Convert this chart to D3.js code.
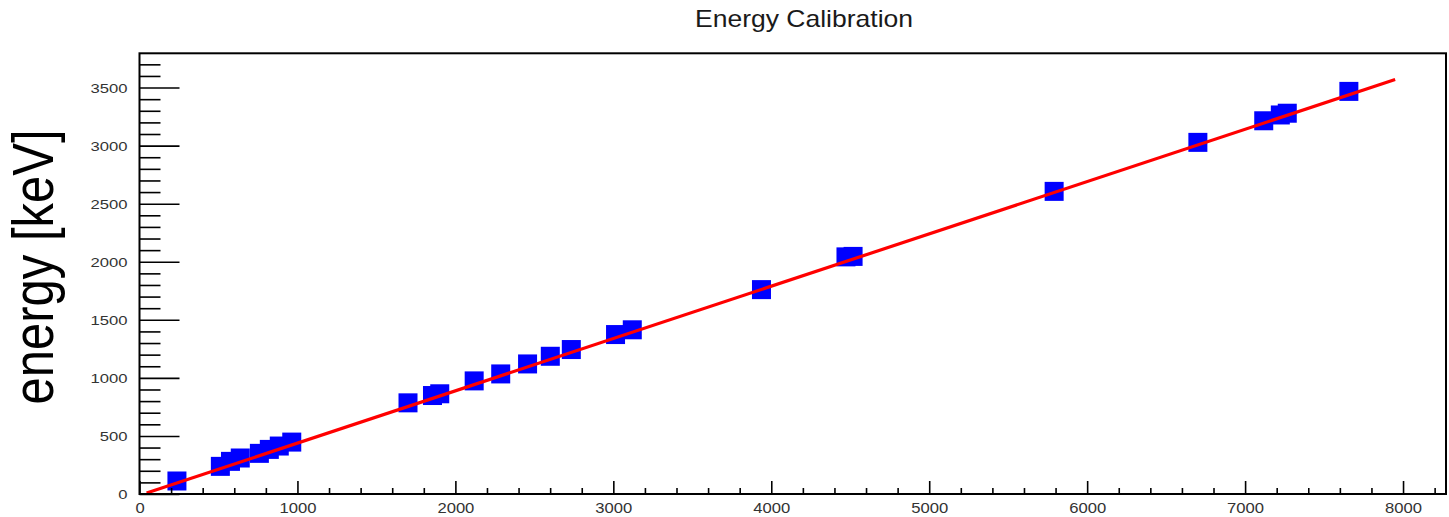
<!DOCTYPE html>
<html>
<head>
<meta charset="utf-8">
<script src="https://cdn.jsdelivr.net/npm/d3@7/dist/d3.min.js"></script>
<style>
  html, body { margin: 0; padding: 0; background: #fff; }
  svg { display: block; }
  text { font-family: "Liberation Sans", Arial, Helvetica, sans-serif; }
</style>
</head>
<body>
<svg id="chart" width="1449" height="517"></svg>
<script>
// ---- data ----
const channels = [237, 512, 576, 638, 759, 822, 885, 964, 1700, 1855, 1901, 2119, 2287, 2457, 2601, 2734, 3014, 3120, 3938, 4473, 4518, 5791, 6701, 7118, 7223, 7267, 7657];
const energies = [112, 238, 281, 310, 350, 384, 413, 447, 785, 848, 863, 974, 1034, 1120, 1186, 1244, 1373, 1414, 1760, 2042, 2046, 2606, 3028, 3214, 3264, 3279, 3467];
const fitX = [45, 7950];
const fitY = [8, 3569];
const xMajorTicks = [0, 1000, 2000, 3000, 4000, 5000, 6000, 7000, 8000];
const xMinorTicks = [200, 400, 600, 800, 1200, 1400, 1600, 1800, 2200, 2400, 2600, 2800, 3200, 3400, 3600, 3800, 4200, 4400, 4600, 4800, 5200, 5400, 5600, 5800, 6200, 6400, 6600, 6800, 7200, 7400, 7600, 7800, 8200];
const yMajorTicks = [0, 500, 1000, 1500, 2000, 2500, 3000, 3500];
const yMinorTicks = [100, 200, 300, 400, 600, 700, 800, 900, 1100, 1200, 1300, 1400, 1600, 1700, 1800, 1900, 2100, 2200, 2300, 2400, 2600, 2700, 2800, 2900, 3100, 3200, 3300, 3400, 3600, 3700];
const xDomain = [0, 8272];
const yDomain = [0, 3795];
const titleText = "Energy Calibration";
const yTitleText = "energy [keV]";

(function () {
// ---- layout ----
const svg = d3.select("#chart");
const mLeft = 139.5, mRight = 1446, mTop = 53.3, mBottom = 494;

const x = d3.scaleLinear().domain(xDomain).range([mLeft, mRight]);
const y = d3.scaleLinear().domain(yDomain).range([mBottom, mTop]);

// title
svg.append("text")
  .attr("x", 804).attr("y", 27.3)
  .attr("text-anchor", "middle")
  .attr("font-size", 24)
  .attr("fill", "#1a1a1a")
  .attr("textLength", 218).attr("lengthAdjust", "spacingAndGlyphs")
  .text(titleText);

// y title
svg.append("text")
  .attr("transform", "translate(53,267) rotate(-90)")
  .attr("text-anchor", "middle")
  .attr("font-size", 57)
  .attr("fill", "#000")
  .attr("textLength", 275).attr("lengthAdjust", "spacingAndGlyphs")
  .text(yTitleText);

const lineGen = d3.line().x(d => x(d[0])).y(d => y(d[1]));
const fitPts = fitX.map((d, i) => [d, fitY[i]]);

// data points (blue squares)
const sq = 19;
svg.append("g").selectAll("rect")
  .data(channels.map((c, i) => [c, energies[i]]))
  .join("rect")
  .attr("x", d => x(d[0]) - sq / 2)
  .attr("y", d => y(d[1]) - sq / 2)
  .attr("width", sq).attr("height", sq)
  .attr("fill", "#0000ff");

// fit line on top of markers
svg.append("path")
  .datum(fitPts)
  .attr("d", lineGen)
  .attr("fill", "none")
  .attr("stroke", "#ff0000")
  .attr("stroke-width", 3.2);

// axes
const digitW = 9.25;
// X minor
svg.append("g").attr("transform", `translate(0,${mBottom})`)
  .call(d3.axisBottom(x).tickValues(xMinorTicks).tickSizeInner(-6).tickSizeOuter(0).tickFormat(""))
  .call(g => g.select(".domain").remove())
  .call(g => g.selectAll("line").attr("stroke", "#000").attr("stroke-width", 1.6));
// X major
svg.append("g").attr("transform", `translate(0,${mBottom})`)
  .call(d3.axisBottom(x).tickValues(xMajorTicks).tickSizeInner(-13).tickSizeOuter(0).tickPadding(0).tickFormat(d3.format("d")))
  .call(g => g.select(".domain").remove())
  .call(g => g.selectAll("line").attr("stroke", "#000").attr("stroke-width", 1.6))
  .call(g => g.selectAll("text")
    .attr("y", 18.5).attr("dy", 0)
    .attr("font-size", 14).attr("fill", "#333")
    .attr("font-family", "Liberation Sans, Arial, sans-serif")
    .attr("textLength", function(d) { return String(d).length * digitW; })
    .attr("lengthAdjust", "spacingAndGlyphs"));
// Y minor
svg.append("g").attr("transform", `translate(${mLeft},0)`)
  .call(d3.axisLeft(y).tickValues(yMinorTicks).tickSizeInner(-21).tickSizeOuter(0).tickFormat(""))
  .call(g => g.select(".domain").remove())
  .call(g => g.selectAll("line").attr("stroke", "#000").attr("stroke-width", 1.6));
// Y major
svg.append("g").attr("transform", `translate(${mLeft},0)`)
  .call(d3.axisLeft(y).tickValues(yMajorTicks).tickSizeInner(-40).tickSizeOuter(0).tickPadding(0).tickFormat(d3.format("d")))
  .call(g => g.select(".domain").remove())
  .call(g => g.selectAll("line").attr("stroke", "#000").attr("stroke-width", 1.6))
  .call(g => g.selectAll("text")
    .attr("x", -12).attr("dy", "0.35em")
    .attr("font-size", 13).attr("fill", "#333")
    .attr("font-family", "Liberation Sans, Arial, sans-serif")
    .attr("textLength", function(d) { return String(d).length * digitW; })
    .attr("lengthAdjust", "spacingAndGlyphs"));

// frame
svg.append("rect")
  .attr("x", mLeft).attr("y", mTop)
  .attr("width", mRight - mLeft).attr("height", mBottom - mTop)
  .attr("fill", "none").attr("stroke", "#000").attr("stroke-width", 2);
})();
</script>
</body>
</html>
